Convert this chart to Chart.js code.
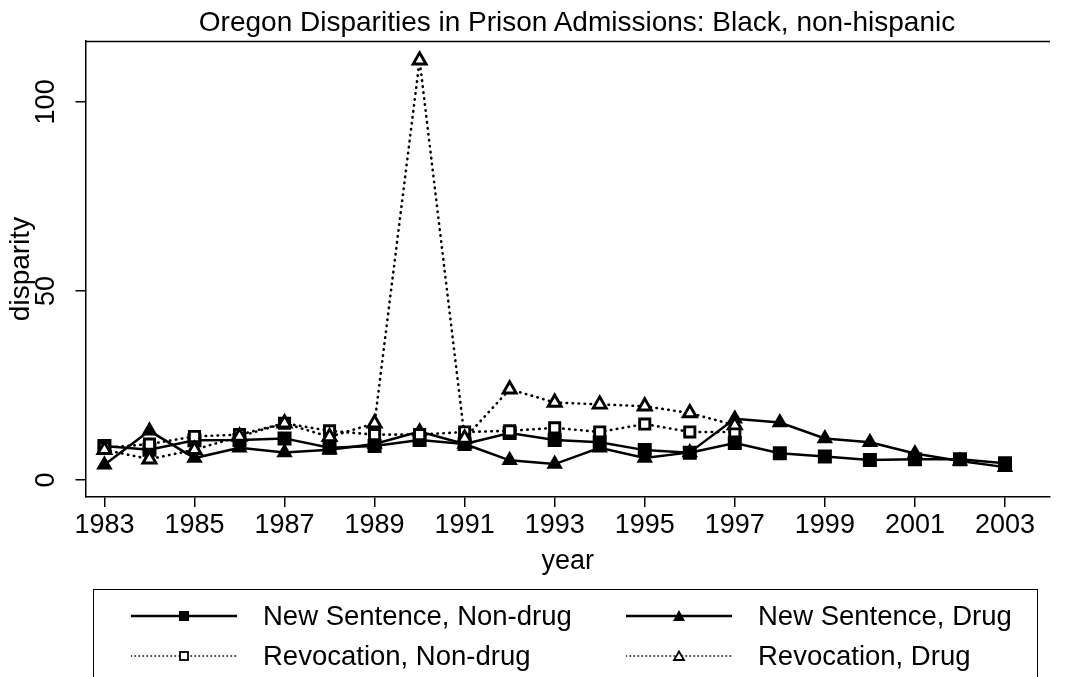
<!DOCTYPE html>
<html><head><meta charset="utf-8">
<script src="https://cdn.jsdelivr.net/npm/chart.js@4.4.1/dist/chart.umd.min.js"></script>
<style>
html,body{margin:0;padding:0;background:#fff;}
#wrap{position:relative;width:1066px;height:677px;overflow:hidden;font-family:"Liberation Sans",Arial,sans-serif;background:#fff;}
#cw{position:absolute;left:0;top:0;width:1066px;height:590px;}
#title{position:absolute;left:377px;width:400px;top:4px;height:36px;line-height:36px;text-align:center;font-size:28px;color:#000;white-space:nowrap;display:flex;justify-content:center;}
#legend{position:absolute;left:93px;top:589px;width:945px;height:120px;border:1.5px solid #000;box-sizing:border-box;}
.item{position:absolute;height:40px;display:flex;align-items:center;font-size:27.5px;color:#000;white-space:nowrap;}
.item svg{display:block;}
.item span{position:absolute;}
</style></head>
<body>
<div id="wrap">
  <div id="cw"><canvas id="c"></canvas></div>
  <div id="title"></div>
  <div id="legend"></div>
</div>
<script>
const years = [1983,1984,1985,1986,1987,1988,1989,1990,1991,1992,1993,1994,1995,1996,1997,1998,1999,2000,2001,2002,2003];
const newSentNonDrug = [9.0,8.0,10.5,10.6,11.0,8.5,9.0,10.6,9.5,12.4,10.6,10.0,7.9,7.2,9.8,7.1,6.2,5.3,5.5,5.5,4.4];
const newSentDrug    = [4.0,13.0,5.8,8.5,7.3,8.0,9.5,12.8,9.5,5.2,4.2,8.5,5.8,7.3,16.2,15.2,11.0,10.0,7.0,5.0,3.4];
const revocNonDrug   = [8.5,9.5,11.5,12.0,15.0,13.0,12.0,12.0,12.7,13.0,13.8,12.7,14.8,12.7,12.7,null,null,null,null,null,null];
const revocDrug      = [8.0,5.5,8.0,11.5,15.0,11.4,15.0,111.0,11.0,24.0,20.5,20.0,19.5,17.7,14.5,null,null,null,null,null,null];
const seriesLabels = ["New Sentence, Non-drug","New Sentence, Drug","Revocation, Non-drug","Revocation, Drug"];
const xTickYears = [1983,1985,1987,1989,1991,1993,1995,1997,1999,2001,2003];
const yTickValues = [0,50,100];
const chartTitle = "Oregon Disparities in Prison Admissions: Black, non-hispanic";
const xTitle = "year";
const yTitle = "disparity";

document.getElementById('title').textContent = chartTitle;

const FONT = "'Liberation Sans', Arial, sans-serif";
function pts(vals){ return years.map((y,i)=>({x:y,y:vals[i]})); }

const styles = [
  {pointStyle:'rect', radius:8.5, fill:'#000', dash:[], width:2.5, pbw:2},
  {pointStyle:'triangle', radius:7.5, fill:'#000', dash:[], width:2.5, pbw:2},
  {pointStyle:'rect', radius:7.2, fill:'#fff', dash:[0.5,5.5], width:2.6, pbw:2.9},
  {pointStyle:'triangle', radius:7.5, fill:'#fff', dash:[0.5,5.5], width:2.6, pbw:2.9}
];
const allVals = [newSentNonDrug,newSentDrug,revocNonDrug,revocDrug];

const datasets = allVals.map((v,i)=>({
  label: seriesLabels[i],
  data: pts(v),
  borderColor:'#000',
  borderWidth: styles[i].width,
  borderDash: styles[i].dash,
  borderCapStyle: 'round',
  backgroundColor: styles[i].fill,
  pointStyle: styles[i].pointStyle,
  pointRadius: styles[i].radius,
  pointBorderWidth: styles[i].pbw,
  pointBorderColor:'#000',
  pointBackgroundColor: styles[i].fill,
  tension:0,
  spanGaps:false,
  order: 4-i
}));

const frame = {
  id:'frame',
  afterDraw(chart){
    const {ctx, chartArea:a} = chart;
    ctx.save();
    ctx.strokeStyle='#000'; ctx.lineWidth=1.5;
    ctx.beginPath(); ctx.moveTo(a.left, a.top+0.5); ctx.lineTo(a.right, a.top+0.5); ctx.stroke();
    ctx.restore();
  }
};

new Chart(document.getElementById('c'), {
  type:'line',
  data:{datasets},
  options:{
    responsive:true, maintainAspectRatio:false, animation:false,
    layout:{padding:{left:0,right:16,top:41,bottom:0}},
    plugins:{ legend:{display:false}, tooltip:{enabled:false}, title:{display:false} },
    scales:{
      x:{type:'linear', min:1982.58, max:2004.0,
        afterBuildTicks(s){ s.ticks = xTickYears.map(v=>({value:v})); },
        afterFit(s){ s.height = 93; },
        grid:{drawOnChartArea:false, drawTicks:true, tickLength:10, color:'#000', lineWidth:1.5},
        border:{display:true,color:'#000',width:1.5},
        ticks:{color:'#000', font:{family:FONT,size:27}, padding:2, maxRotation:0, autoSkip:false,
          callback:v=>String(v)},
        title:{display:true,text:xTitle,color:'#000',font:{family:FONT,size:27},padding:{top:0,bottom:12}}
      },
      y:{type:'linear', min:-4.5, max:116.1,
        afterBuildTicks(s){ s.ticks = yTickValues.map(v=>({value:v})); },
        afterFit(s){ s.width = 85.5; },
        grid:{drawOnChartArea:false, drawTicks:true, tickLength:10, color:'#000', lineWidth:1.5},
        border:{display:true,color:'#000',width:1.5},
        ticks:{color:'#000', font:{family:FONT,size:27}, padding:6, minRotation:90, maxRotation:90,
          crossAlign:'center', callback:v=>String(v)},
        title:{display:true,text:yTitle,color:'#000',font:{family:FONT,size:28},padding:{top:4,bottom:0}}
      }
    }
  },
  plugins:[frame]
});

// HTML legend built from the series definitions
const legend = document.getElementById('legend');
const cols = [{sample:37, text:169},{sample:532, text:664}];
const rows = [6, 46];
seriesLabels.forEach((lab,i)=>{
  const c = cols[i%2], r = rows[Math.floor(i/2)];
  const st = styles[i];
  const item = document.createElement('div');
  item.className='item';
  item.style.left = c.sample+'px'; item.style.top = r+'px';
  const dash = st.dash.length ? 'stroke-dasharray="0.5 3.5" stroke-linecap="round"' : '';
  const w = st.dash.length ? 1.6 : 2.5;
  let marker;
  if (st.pointStyle==='rect') {
    marker = st.fill==='#000'
      ? '<rect x="48" y="15" width="10" height="10" fill="#000"/>'
      : '<rect x="49" y="16" width="8" height="8" fill="#fff" stroke="#000" stroke-width="1.8"/>';
  } else {
    marker = st.fill==='#000'
      ? '<polygon points="53,14 59,25 47,25" fill="#000"/>'
      : '<polygon points="53,15.5 58,24 48,24" fill="#fff" stroke="#000" stroke-width="1.8"/>';
  }
  item.innerHTML = '<svg width="106" height="40"><line x1="0" y1="20" x2="106" y2="20" stroke="#000" stroke-width="'+w+'" '+dash+'/>'+marker+'</svg>';
  const span = document.createElement('span');
  span.textContent = lab;
  span.style.left = (c.text - c.sample)+'px';
  item.appendChild(span);
  legend.appendChild(item);
});
</script>
</body></html>
